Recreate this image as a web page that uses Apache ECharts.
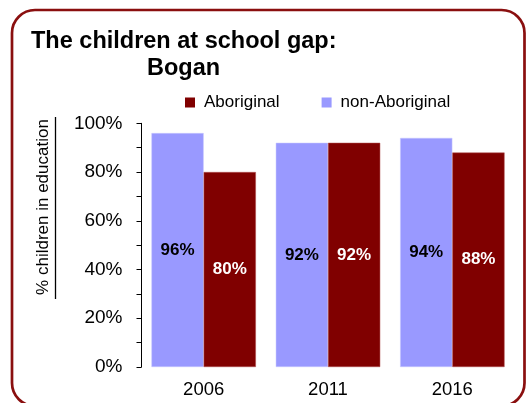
<!DOCTYPE html>
<html>
<head>
<meta charset="utf-8">
<script src="https://cdn.jsdelivr.net/npm/echarts@6/dist/echarts.min.js"></script>
<style>
html,body{margin:0;padding:0;background:#fff;}
#chart{width:531px;height:403px;}
</style>
</head>
<body>
<div id="chart"></div>
<script>
const titleLine1 = 'The children at school gap:';
const titleLine2 = 'Bogan';
const yAxisTitle = '% children in education';
const categories = ['2006', '2011', '2016'];
const seriesNames = ['non-Aboriginal', 'Aboriginal'];
const nonAboriginal = [96, 92, 94];
const aboriginal = [80, 92, 88];
const legendOrder = ['Aboriginal', 'non-Aboriginal'];

// detect narrow font
function hasFont(name) {
  const c = document.createElement('canvas').getContext('2d');
  c.font = '40px monospace';
  const a = c.measureText('Aboriginal education').width;
  c.font = '40px "' + name + '", monospace';
  const b = c.measureText('Aboriginal education').width;
  return Math.abs(a - b) > 0.5;
}
const narrowOK = hasFont('Liberation Sans Narrow');
const narrowFont = narrowOK ? '"Liberation Sans Narrow"' : '"Liberation Sans"';
const narrowSize = narrowOK ? 21 : 17;
const base = '"Liberation Sans", Arial, sans-serif';

const chart = echarts.init(document.getElementById('chart'));
chart.setOption({
  animation: false,
  backgroundColor: '#fff',
  title: [
    { text: titleLine1, left: 31, top: 29.5, padding: 0,
      textStyle: { fontFamily: base, fontSize: 23.5, fontWeight: 'bold', color: '#000' } },
    { text: titleLine2, left: 147, top: 57, padding: 0,
      textStyle: { fontFamily: base, fontSize: 23.5, fontWeight: 'bold', color: '#000' } }
  ],
  legend: {
    data: legendOrder,
    left: 185, top: 94, padding: 0,
    itemWidth: 10, itemHeight: 10, itemGap: 42,
    icon: 'rect',
    itemStyle: { borderWidth: 0 },
    textStyle: { fontFamily: narrowFont, fontSize: narrowSize, color: '#000', padding: [0,0,0,4] }
  },
  grid: { left: 141.5, right: 16.5, top: 123.3, bottom: 36, containLabel: false },
  xAxis: {
    type: 'category',
    data: categories,
    axisLine: { show: false },
    axisTick: { show: false },
    axisLabel: { fontFamily: base, fontSize: 18.5, color: '#000', margin: 13 }
  },
  yAxis: {
    type: 'value',
    min: 0, max: 100, interval: 20,
    axisLine: { show: true, lineStyle: { color: '#000', width: 1 } },
    axisTick: { show: true, length: 5, lineStyle: { color: '#000' } },
    minorTick: { show: true, splitNumber: 2, length: 5, lineStyle: { color: '#000' } },
    splitLine: { show: false },
    axisLabel: { fontFamily: base, fontSize: 19, color: '#000', margin: 19,
      formatter: v => v + '%' }
  },
  series: [
    {
      name: seriesNames[0], type: 'bar', data: nonAboriginal,
      barGap: '0%', barCategoryGap: '16%',
      itemStyle: { color: '#9999ff', borderColor: '#c8c8ff', borderWidth: 0.5 },
      label: { show: true, position: 'inside', formatter: '{c}%',
        fontFamily: base, fontSize: 17, fontWeight: 'bold', color: '#000' }
    },
    {
      name: seriesNames[1], type: 'bar', data: aboriginal,
      barGap: '0%', barCategoryGap: '16%',
      itemStyle: { color: '#800000', borderColor: '#b05050', borderWidth: 0.5 },
      label: { show: true, position: 'inside', formatter: '{c}%',
        fontFamily: base, fontSize: 17, fontWeight: 'bold', color: '#fff' }
    }
  ],
  graphic: [
    { type: 'rect', silent: true, z: 100,
      shape: { x: 12, y: 10, width: 512.5, height: 396, r: 23 },
      style: { fill: 'none', stroke: '#8a0f0f', lineWidth: 2.7 } },
    { type: 'text', silent: true, x: 43.5, y: 207, rotation: Math.PI / 2,
      style: { text: yAxisTitle, fontFamily: narrowFont, fontSize: narrowSize,
        fill: '#000', align: 'center', verticalAlign: 'middle' } },
    { type: 'line', silent: true,
      shape: { x1: 55.5, y1: 117, x2: 55.5, y2: 299 },
      style: { stroke: '#000', lineWidth: 1.3 } }
  ]
});
</script>
</body>
</html>
